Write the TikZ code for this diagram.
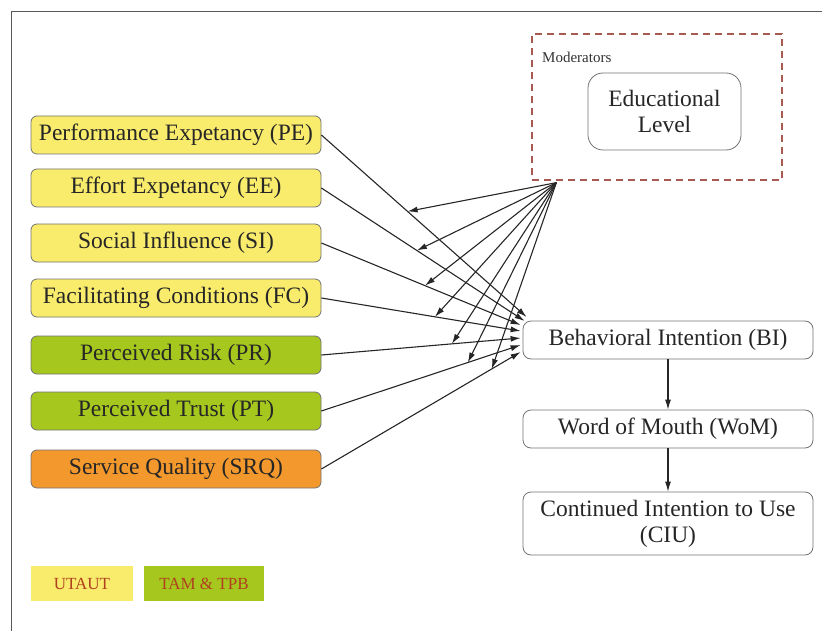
\documentclass[tikz,border=0pt]{standalone}
\usepackage{fontspec}
\setmainfont{Liberation Serif}
\newfontfamily\boxfont{Liberation Serif}
\usetikzlibrary{arrows.meta}
\definecolor{utaut}{HTML}{F9EC6C}
\definecolor{tamtpb}{HTML}{A6C81E}
\definecolor{srq}{HTML}{F3982C}
\definecolor{legtext}{HTML}{B0401E}
\definecolor{moddash}{HTML}{A85A52}
\begin{document}
\begin{tikzpicture}[x=1pt,y=-1pt,
	arr/.style={-{Latex[length=10pt,width=6pt]},draw=black!85,line width=1.1pt},
	box/.style={rounded corners=6pt,draw=black!55,line width=0.8pt,minimum width=290pt,minimum height=38pt,inner sep=0pt,text=black!85,align=center,font=\boxfont\fontsize{23.5}{26}\selectfont}]
	\useasboundingbox (0,0) rectangle (822,631);
	\draw[black!65,line width=1pt] (11,631) -- (11,12) -- (822,12);
	% predictors
	\begin{scope}[every node/.style={box,fill=utaut}]
	\node (PE) at (176,135) {Performance Expetancy (PE)};
	\node (EE) at (176,188) {Effort Expetancy (EE)};
	\node (SI) at (176,243) {Social Influence (SI)};
	\node (FC) at (176,298) {Facilitating Conditions (FC)};
	\node[fill=tamtpb] (PR) at (176,355) {Perceived Risk (PR)};
	\node[fill=tamtpb] (PT) at (176,411) {Perceived Trust (PT)};
	\node[fill=srq] (SRQ) at (176,469) {Service Quality (SRQ)};
	\end{scope}
	% outcomes
	\begin{scope}[every node/.style={box,rounded corners=8pt,fill=white}]
	\node (BI) at (668,340) {Behavioral Intention (BI)};
	\node (WoM) at (668,429) {Word of Mouth (WoM)};
	\node[minimum height=63pt] (CIU) at (668,523.5) {Continued Intention to Use\\(CIU)};
	\end{scope}
	% moderators
	\node[draw=moddash,line width=1.3pt,dash pattern=on 7pt off 5pt,minimum width=250pt,minimum height=146pt,inner sep=0pt] (modbox) at (657,107) {};
	\node[anchor=base west,inner sep=0pt,text=black!80,font=\boxfont\fontsize{15}{17}\selectfont] (modlabel) at (542,63) {Moderators};
	\node[box,rounded corners=15pt,fill=white,minimum width=153pt,minimum height=77pt] (edu) at (664.5,111.5) {Educational\\Level};
	\coordinate (apex) at ([shift={(25,2)}]modbox.south west);
	% legend
	\begin{scope}[every node/.style={inner sep=0pt,minimum height=35pt,text=legtext,font=\boxfont\fontsize{17}{19}\selectfont}]
	\node[fill=utaut,minimum width=102pt] (legU) at (82,583.5) {UTAUT};
	\node[fill=tamtpb,minimum width=120pt] (legT) at (204,583.5) {TAM \& TPB};
	\end{scope}
	% paths
	\foreach \n/\dx/\dy/\p in {PE/4/-23/0.42,EE/2/-19/0.47,SI/-2/-15/0.52,FC/-2/-9/0.57,PR/-2/-2/0.655,PT/-2/5/0.735,SRQ/-2/12/0.855}
	\draw[arr] (\n.east) -- ([shift={(\dx,\dy)}]BI.west) coordinate[pos=\p] (m\n);
	\foreach \n in {PE,EE,SI,FC,PR,PT,SRQ}
	\draw[arr] (apex) -- (m\n);
	\draw[arr] (BI) -- (WoM);
	\draw[arr] (WoM) -- (CIU);
\end{tikzpicture}
\end{document}
